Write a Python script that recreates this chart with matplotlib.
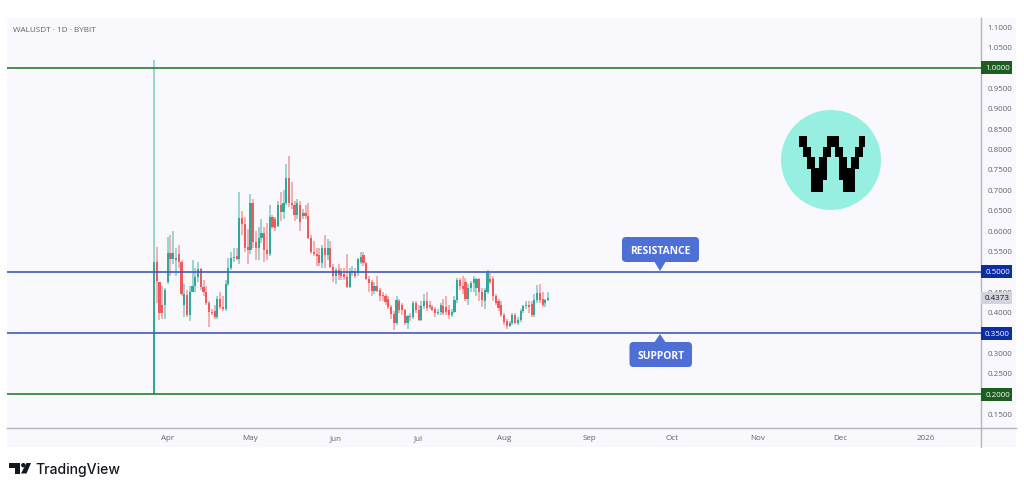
"""WALUSDT daily candles with support / resistance levels, TradingView style."""

import matplotlib

matplotlib.use("Agg")
import matplotlib.pyplot as plt
import numpy as np
from matplotlib.patches import Circle, FancyBboxPatch, Polygon, Rectangle

plt.rcParams["font.family"] = ["Open Sans", "DejaVu Sans"]

W, H = 1024, 490
TEAL = "#2fa99c"
RED = "#f05a5c"
GREY = "#5f626d"
BG = "#f9f9fd"
GREEN_LINE = "#2e7d32"
BLUE_LINE = "#3f5bb5"
CALLOUT = "#4d6fd6"

# daily candles, first one is 27 Mar
opens = [
    0.200, 0.525, 0.476, 0.420, 0.420, 0.476, 0.547, 0.533, 0.530, 0.545, 0.525, 0.420,
    0.443, 0.395, 0.452, 0.466, 0.488, 0.507, 0.464, 0.452, 0.425, 0.403, 0.404, 0.390,
    0.435, 0.413, 0.410, 0.470, 0.510, 0.535, 0.540, 0.533, 0.632, 0.618, 0.562, 0.554,
    0.670, 0.574, 0.558, 0.583, 0.596, 0.554, 0.544, 0.635, 0.630, 0.613, 0.664, 0.648,
    0.668, 0.730, 0.670, 0.664, 0.640, 0.664, 0.636, 0.644, 0.636, 0.583, 0.550, 0.544,
    0.542, 0.521, 0.560, 0.542, 0.560, 0.513, 0.490, 0.505, 0.500, 0.495, 0.487, 0.462,
    0.500, 0.500, 0.497, 0.525, 0.542, 0.521, 0.482, 0.476, 0.454, 0.466, 0.456, 0.444,
    0.441, 0.435, 0.413, 0.397, 0.374, 0.430, 0.419, 0.407, 0.374, 0.392, 0.389, 0.425,
    0.407, 0.382, 0.417, 0.430, 0.419, 0.413, 0.410, 0.399, 0.403, 0.417, 0.413, 0.407,
    0.395, 0.403, 0.431, 0.480, 0.466, 0.475, 0.435, 0.460, 0.472, 0.460, 0.482, 0.452,
    0.430, 0.450, 0.482, 0.482, 0.440, 0.430, 0.419, 0.395, 0.381, 0.368, 0.374, 0.395,
    0.374, 0.382, 0.405, 0.417, 0.419, 0.422, 0.395, 0.431, 0.449, 0.433, 0.425, 0.431,
]
highs = [
    1.020, 0.562, 0.476, 0.465, 0.460, 0.585, 0.590, 0.600, 0.560, 0.565, 0.530, 0.470,
    0.455, 0.465, 0.530, 0.510, 0.525, 0.510, 0.480, 0.465, 0.430, 0.410, 0.420, 0.440,
    0.450, 0.440, 0.480, 0.535, 0.550, 0.560, 0.560, 0.695, 0.650, 0.635, 0.605, 0.690,
    0.680, 0.600, 0.610, 0.630, 0.610, 0.620, 0.665, 0.640, 0.635, 0.675, 0.695, 0.700,
    0.765, 0.785, 0.720, 0.675, 0.680, 0.675, 0.655, 0.665, 0.670, 0.590, 0.575, 0.560,
    0.560, 0.565, 0.590, 0.580, 0.575, 0.520, 0.510, 0.520, 0.510, 0.510, 0.545, 0.510,
    0.515, 0.510, 0.535, 0.550, 0.548, 0.525, 0.490, 0.480, 0.475, 0.490, 0.460, 0.450,
    0.445, 0.440, 0.420, 0.405, 0.440, 0.435, 0.425, 0.410, 0.395, 0.400, 0.430, 0.430,
    0.420, 0.430, 0.445, 0.450, 0.430, 0.420, 0.415, 0.410, 0.425, 0.435, 0.440, 0.420,
    0.410, 0.440, 0.485, 0.485, 0.490, 0.485, 0.470, 0.478, 0.490, 0.485, 0.485, 0.460,
    0.460, 0.505, 0.497, 0.490, 0.445, 0.435, 0.430, 0.400, 0.385, 0.380, 0.400, 0.400,
    0.390, 0.410, 0.420, 0.430, 0.430, 0.430, 0.445, 0.467, 0.470, 0.452, 0.435, 0.450,
]
lows = [
    0.200, 0.423, 0.382, 0.385, 0.385, 0.470, 0.490, 0.520, 0.490, 0.510, 0.440, 0.390,
    0.390, 0.380, 0.450, 0.450, 0.475, 0.455, 0.440, 0.420, 0.365, 0.395, 0.385, 0.385,
    0.410, 0.405, 0.405, 0.465, 0.505, 0.525, 0.530, 0.520, 0.590, 0.550, 0.520, 0.545,
    0.560, 0.530, 0.530, 0.570, 0.525, 0.530, 0.540, 0.605, 0.600, 0.610, 0.625, 0.630,
    0.665, 0.660, 0.655, 0.625, 0.630, 0.600, 0.630, 0.630, 0.580, 0.545, 0.540, 0.515,
    0.515, 0.510, 0.510, 0.530, 0.510, 0.475, 0.470, 0.480, 0.480, 0.480, 0.460, 0.460,
    0.490, 0.485, 0.490, 0.520, 0.515, 0.480, 0.450, 0.440, 0.445, 0.450, 0.430, 0.430,
    0.420, 0.410, 0.385, 0.358, 0.370, 0.400, 0.395, 0.370, 0.360, 0.380, 0.385, 0.400,
    0.380, 0.380, 0.410, 0.405, 0.410, 0.405, 0.390, 0.395, 0.395, 0.395, 0.395, 0.385,
    0.390, 0.400, 0.425, 0.455, 0.445, 0.430, 0.420, 0.450, 0.450, 0.440, 0.430, 0.415,
    0.410, 0.445, 0.470, 0.430, 0.420, 0.405, 0.390, 0.370, 0.360, 0.365, 0.370, 0.372,
    0.370, 0.378, 0.400, 0.410, 0.400, 0.390, 0.390, 0.425, 0.425, 0.415, 0.415, 0.430,
]
closes = [
    0.525, 0.478, 0.400, 0.400, 0.455, 0.547, 0.533, 0.547, 0.535, 0.525, 0.445, 0.445,
    0.395, 0.452, 0.466, 0.488, 0.507, 0.464, 0.452, 0.425, 0.403, 0.399, 0.390, 0.435,
    0.413, 0.410, 0.470, 0.510, 0.535, 0.537, 0.533, 0.632, 0.618, 0.558, 0.554, 0.670,
    0.574, 0.558, 0.583, 0.596, 0.554, 0.544, 0.635, 0.610, 0.608, 0.664, 0.648, 0.668,
    0.730, 0.670, 0.664, 0.640, 0.668, 0.623, 0.644, 0.636, 0.583, 0.550, 0.544, 0.540,
    0.521, 0.560, 0.542, 0.560, 0.513, 0.490, 0.505, 0.493, 0.490, 0.487, 0.462, 0.500,
    0.503, 0.490, 0.533, 0.536, 0.521, 0.482, 0.474, 0.454, 0.466, 0.454, 0.441, 0.441,
    0.427, 0.413, 0.397, 0.374, 0.431, 0.407, 0.407, 0.374, 0.392, 0.389, 0.425, 0.407,
    0.382, 0.417, 0.430, 0.411, 0.413, 0.408, 0.399, 0.403, 0.419, 0.400, 0.403, 0.395,
    0.403, 0.431, 0.480, 0.466, 0.458, 0.435, 0.460, 0.472, 0.482, 0.482, 0.452, 0.431,
    0.455, 0.497, 0.476, 0.440, 0.425, 0.411, 0.395, 0.378, 0.368, 0.374, 0.395, 0.374,
    0.382, 0.405, 0.417, 0.419, 0.413, 0.395, 0.431, 0.449, 0.431, 0.419, 0.431, 0.4373,
]

price_ticks = [1.10, 1.05, 0.95, 0.90, 0.85, 0.80, 0.75, 0.70, 0.65, 0.60, 0.55, 0.45,
               0.40, 0.30, 0.25, 0.15]
month_days = [5, 35, 66, 96, 127, 158, 188, 219, 249, 280]
month_labels = ["Apr", "May", "Jun", "Jul", "Aug", "Sep", "Oct", "Nov", "Dec", "2026"]
green_levels = [1.0, 0.2]
blue_levels = [0.5, 0.35]
last_price = 0.4373

# logo blocks as (x0, x1, y0, y1) in page pixels
logo_blocks = [
    (799, 807, 135.7, 147), (827, 839, 135.7, 147), (859, 864.5, 135.7, 147),
    (803, 811, 146.5, 157), (823, 831, 146.5, 157), (835, 843, 146.5, 157), (855, 863, 146.5, 157),
    (807, 815, 156.5, 168.5), (819, 827, 156.5, 168.5), (839, 847, 156.5, 168.5), (851, 859, 156.5, 168.5),
    (811, 827, 168, 180), (839, 855, 168, 180),
    (811, 823, 179.5, 191.5), (843, 855, 179.5, 191.5),
]


def px_axes(fig):
    """Overlay axes in page pixels, origin top left, for the drawn furniture."""
    ov = fig.add_axes([0, 0, 1, 1], zorder=10)
    ov.set_xlim(0, W)
    ov.set_ylim(H, 0)
    ov.axis("off")
    ov.patch.set_alpha(0)
    return ov


def draw_candles(ax):
    x = np.arange(len(opens))
    o, h, l, c = map(np.array, (opens, highs, lows, closes))
    up = c >= o
    colors = np.where(up, TEAL, RED)
    ax.vlines(x, l, h, colors=colors, lw=1.2, alpha=0.55, zorder=2)
    ax.bar(x, np.abs(c - o), bottom=np.minimum(o, c), width=0.78, color=colors, lw=0, zorder=3)


def draw_levels(ax):
    for lv in green_levels:
        ax.axhline(lv, color=GREEN_LINE, lw=1.2, zorder=4)
        price_tag(ax, lv, "#1b5e20", "white")
    for lv in blue_levels:
        ax.axhline(lv, color=BLUE_LINE, lw=1.2, zorder=4)
        price_tag(ax, lv, "#0d2ea0", "white")
    price_tag(ax, last_price, "#d1d4dc", "#131722", height=12)


def price_tag(ax, value, face, ink, height=13):
    tr = ax.get_yaxis_transform()
    ax.add_patch(Rectangle((1.0, value - height / 2 / 408), 31 / 974, height / 408, transform=tr,
                           fc=face, ec="none", clip_on=False, zorder=6))
    ax.text(1.0 + 16.5 / 974, value, f"{value:.4f}", transform=tr, color=ink, fontsize=5.8,
            ha="center", va="center_baseline", clip_on=False, zorder=7)


def callout(ov, x0, x1, y0, y1, tip, label):
    tip_x, tip_y = tip
    ov.add_patch(FancyBboxPatch((x0 + 3, y0 + 3), x1 - x0 - 6, y1 - y0 - 6,
                                boxstyle="round,pad=3,rounding_size=4", fc=CALLOUT, ec="none"))
    base = y1 - 1 if tip_y > y1 else y0 + 1
    ov.add_patch(Polygon([(tip_x - 6, base), (tip_x + 6, base), (tip_x, tip_y)], fc=CALLOUT, ec="none"))
    ov.text((x0 + x1) / 2, (y0 + y1) / 2, label, color="white", fontsize=7.4, fontweight="bold",
            ha="center", va="center_baseline")


def draw_overlay(ov):
    callout(ov, 622, 699, 237, 262, (660, 271), "RESISTANCE")
    callout(ov, 629.5, 692, 342, 367, (660, 334), "SUPPORT")

    ov.add_patch(Circle((831, 160), 50, fc="#97efe2", ec="none"))
    for x0, x1, y0, y1 in logo_blocks:
        ov.add_patch(Rectangle((x0, y0), x1 - x0, y1 - y0, fc="black", ec="none", lw=0))

    ov.text(13, 30, "WALUSDT · 1D · BYBIT", color=GREY, fontsize=5.9, ha="left", va="center_baseline")

    # TradingView mark
    ink = "#131722"
    ov.add_patch(Polygon([(9, 463), (20, 463), (20, 473.5), (14.5, 473.5), (14.5, 467.5), (9, 467.5)],
                         fc=ink, ec="none"))
    ov.add_patch(Circle((23.3, 465.2), 2.2, fc=ink, ec="none"))
    ov.add_patch(Polygon([(26.5, 463), (31, 463), (26.5, 473.5), (21, 473.5)], fc=ink, ec="none"))
    ov.text(35, 468.5, "TradingView", color=ink, fontsize=10.1, family=["Inter", "DejaVu Sans"],
            fontweight="medium", ha="left", va="center_baseline")


def main():
    fig = plt.figure(figsize=(W / 100, H / 100), dpi=100, facecolor="white")
    fig.add_artist(Rectangle((7 / W, 1 - 447 / H), 1009 / W, 429 / H, transform=fig.transFigure,
                             fc=BG, ec="none", zorder=-5))

    ax = fig.add_axes([7 / W, 1 - 428 / H, 974 / W, 410 / H])
    ax.patch.set_alpha(0)
    ax.set_xlim(-53.3, 300.0)
    ax.set_ylim(0.1176, 1.1225)

    draw_candles(ax)
    draw_levels(ax)

    ax.yaxis.tick_right()
    ax.set_yticks(price_ticks)
    ax.set_yticklabels([f"{v:.4f}" for v in price_ticks])
    ax.set_xticks(month_days)
    ax.set_xticklabels(month_labels)
    ax.tick_params(axis="both", length=0, labelsize=5.8, labelcolor=GREY)
    ax.tick_params(axis="x", pad=5)
    ax.tick_params(axis="y", pad=4.5)
    for side in ("top", "left"):
        ax.spines[side].set_visible(False)
    for side in ("right", "bottom"):
        ax.spines[side].set_color("#b2b5be")
        ax.spines[side].set_linewidth(1.0)

    ov = px_axes(fig)
    ov.plot([981, 981], [428, 447], color="#b2b5be", lw=1.0)
    ov.plot([981, 1016], [428, 428], color="#b2b5be", lw=1.0)
    draw_overlay(ov)

    fig.savefig("out.png", dpi=100, facecolor="white")


if __name__ == "__main__":
    main()
